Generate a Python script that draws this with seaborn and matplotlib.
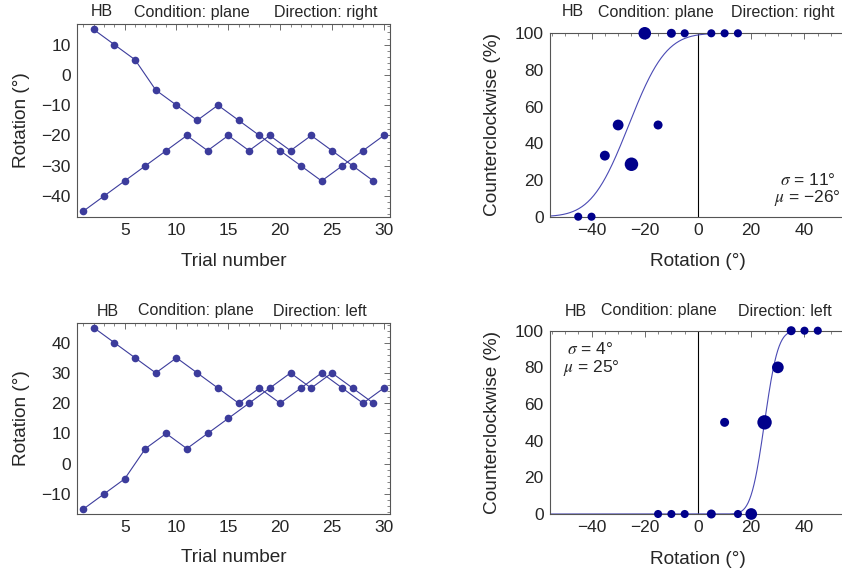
import math
import numpy as np
import pandas as pd
import seaborn as sns
import matplotlib.pyplot as plt
from matplotlib.ticker import MultipleLocator

#####################################
# Data
#####################################

# staircase, direction right (two interleaved staircases)
right_a_trials = [1, 3, 5, 7, 9, 11, 13, 15, 17, 19, 21, 23, 25, 27, 29]
right_a_rot = [-45, -40, -35, -30, -25, -20, -25, -20, -25, -20, -25, -20, -25, -30, -35]
right_b_trials = [2, 4, 6, 8, 10, 12, 14, 16, 18, 20, 22, 24, 26, 28, 30]
right_b_rot = [15, 10, 5, -5, -10, -15, -10, -15, -20, -25, -30, -35, -30, -25, -20]

# staircase, direction left
left_a_trials = [1, 3, 5, 7, 9, 11, 13, 15, 17, 19, 21, 23, 25, 27, 29]
left_a_rot = [-15, -10, -5, 5, 10, 5, 10, 15, 20, 25, 30, 25, 30, 25, 20]
left_b_trials = [2, 4, 6, 8, 10, 12, 14, 16, 18, 20, 22, 24, 26, 28, 30]
left_b_rot = [45, 40, 35, 30, 35, 30, 25, 20, 25, 20, 25, 30, 25, 20, 25]

# psychometric points: rotation, % counterclockwise, number of trials
right_psy_rot = [-45, -40, -35, -30, -25, -20, -15, -10, -5, 5, 10, 15]
right_psy_pct = [0, 0, 33.3, 50, 28.6, 100, 50, 100, 100, 100, 100, 100]
right_psy_n = [1, 1, 3, 4, 7, 6, 2, 2, 1, 1, 1, 1]
right_sigma, right_mu = 11, -26

left_psy_rot = [-15, -10, -5, 5, 10, 15, 20, 25, 30, 35, 40, 45]
left_psy_pct = [0, 0, 0, 0, 50, 0, 0, 50, 80, 100, 100, 100]
left_psy_n = [1, 1, 1, 2, 2, 1, 5, 8, 5, 2, 1, 1]
left_sigma, left_mu = 4, 25

STAIR_COLOR = "#3c3c9c"
DOT_COLOR = "#00008b"
CURVE_COLOR = "#4a4ab4"
FRAME_COLOR = "#555555"

TICK_FS = 12.5
LABEL_FS = 13.7
HEAD_FS = 11.5
NOTE_FS = 12.5

W, H = 842, 574


def fx(x):
    return x / W


def fy(y):
    return 1 - y / H


def style_axes(ax, xmin_loc, xmaj_loc, ymin_loc, ymaj_loc, right=True):
    ax.xaxis.set_major_locator(MultipleLocator(xmaj_loc))
    ax.xaxis.set_minor_locator(MultipleLocator(xmin_loc))
    ax.yaxis.set_major_locator(MultipleLocator(ymaj_loc))
    ax.yaxis.set_minor_locator(MultipleLocator(ymin_loc))
    ax.tick_params(which="both", direction="in", top=True, right=right,
                   color=FRAME_COLOR, labelsize=TICK_FS, pad=4.5)
    ax.tick_params(which="major", length=4, width=0.6)
    ax.tick_params(which="minor", length=2, width=0.5)
    for sp in ax.spines.values():
        sp.set_color(FRAME_COLOR)
        sp.set_linewidth(0.8)
    if not right:
        ax.spines["right"].set_visible(False)


def header(fig, y, xs, direction):
    texts = ["HB", "Condition: plane", "Direction: " + direction]
    for x, t in zip(xs, texts):
        fig.text(fx(x), fy(y), t, fontsize=HEAD_FS, ha="left", va="center")


def plot_staircase(ax, a_trials, a_rot, b_trials, b_rot, ylim):
    df = pd.DataFrame({
        "trial": a_trials + b_trials,
        "rotation": a_rot + b_rot,
        "series": ["a"] * len(a_trials) + ["b"] * len(b_trials),
    })
    sns.lineplot(data=df, x="trial", y="rotation", hue="series",
                 palette=[STAIR_COLOR, STAIR_COLOR], estimator=None,
                 marker="o", markersize=5.5, markeredgewidth=0,
                 linewidth=0.8, legend=False, ax=ax)
    ax.set_xlim(0.4, 30.6)
    ax.set_ylim(*ylim)
    style_axes(ax, 1, 5, 2, 10)
    ax.set_xlabel("Trial number", fontsize=LABEL_FS)
    ax.set_ylabel("Rotation (°)", fontsize=LABEL_FS)


def dot_size(n):
    # radius grows with the number of trials
    r_px = 3.6 + 0.45 * n
    return (2 * r_px * 0.72) ** 2


def plot_psychometric(ax, rot, pct, n, sigma, mu):
    df = pd.DataFrame({"rotation": rot, "pct": pct, "n": n})
    grid = np.linspace(-55.6, 55.6, 400)
    fit = [50 * (1 + math.erf((g - mu) / (sigma * math.sqrt(2)))) for g in grid]
    ax.axvline(0, color="black", lw=0.8, zorder=1)
    sns.lineplot(x=grid, y=fit, color=CURVE_COLOR, lw=0.8, ax=ax, zorder=2)
    sizes = {k: dot_size(k) for k in sorted(set(n))}
    sns.scatterplot(data=df, x="rotation", y="pct", size="n", sizes=sizes,
                    color=DOT_COLOR, linewidth=0, legend=False, ax=ax,
                    clip_on=False, zorder=3)
    ax.set_xlim(-55.6, 55.6)
    ax.set_ylim(0, 100)
    style_axes(ax, 5, 20, 5, 20, right=False)
    ax.set_xlabel("Rotation (°)", fontsize=LABEL_FS)
    ax.set_ylabel("Counterclockwise (%)", fontsize=LABEL_FS)


def main():
    sns.set_style("white")
    plt.rcParams["font.family"] = ["Liberation Sans", "DejaVu Sans"]
    plt.rcParams["mathtext.fontset"] = "stix"
    plt.rcParams["axes.unicode_minus"] = True

    fig = plt.figure(figsize=(W / 100, H / 100), dpi=100)

    ax1 = fig.add_axes([fx(77), fy(216.7), fx(390 - 77), (216.7 - 24) / H])
    ax2 = fig.add_axes([fx(77), fy(514), fx(390 - 77), (514 - 322.7) / H])
    ax3 = fig.add_axes([fx(550), fy(216.7), fx(846 - 550), (216.7 - 33.3) / H])
    ax4 = fig.add_axes([fx(550), fy(514), fx(846 - 550), (514 - 330.7) / H])

    plot_staircase(ax1, right_a_trials, right_a_rot, right_b_trials, right_b_rot, (-46.8, 16.8))
    plot_staircase(ax2, left_a_trials, left_a_rot, left_b_trials, left_b_rot, (-16.6, 46.6))
    plot_psychometric(ax3, right_psy_rot, right_psy_pct, right_psy_n, right_sigma, right_mu)
    plot_psychometric(ax4, left_psy_rot, left_psy_pct, left_psy_n, left_sigma, left_mu)

    # label placement (axes fractions)
    for ax, yx, xy in [(ax1, -0.176, -0.235), (ax2, -0.176, -0.23),
                       (ax3, -0.194, -0.247), (ax4, -0.194, -0.246)]:
        ax.yaxis.set_label_coords(yx, 0.5)
        ax.xaxis.set_label_coords(0.5, xy)
        ax.xaxis.label.set_va("center")
        ax.yaxis.label.set_va("center")

    header(fig, 12, [91, 134, 274], "right")
    header(fig, 311, [97, 138, 273], "left")
    header(fig, 12, [562, 598, 731], "right")
    header(fig, 311, [565, 601, 738], "left")

    fig.text(fx(836), fy(180), r"$\sigma$ = %d°" % right_sigma, fontsize=NOTE_FS, ha="right", va="center")
    fig.text(fx(841), fy(198), r"$\mu$ = −%d°" % abs(right_mu), fontsize=NOTE_FS, ha="right", va="center")
    fig.text(fx(567), fy(349), r"$\sigma$ = %d°" % left_sigma, fontsize=NOTE_FS, ha="left", va="center")
    fig.text(fx(563), fy(368), r"$\mu$ = %d°" % left_mu, fontsize=NOTE_FS, ha="left", va="center")

    fig.savefig("out.png", dpi=100)


if __name__ == "__main__":
    main()
